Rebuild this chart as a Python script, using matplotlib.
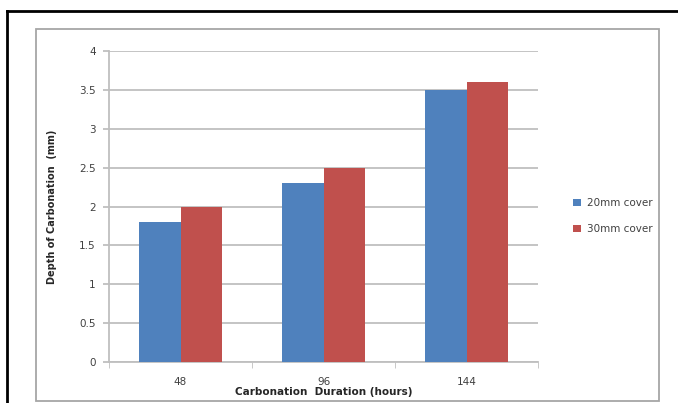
import matplotlib.pyplot as plt
import numpy as np
from matplotlib.lines import Line2D
from matplotlib.patches import Rectangle

durations = ['48', '96', '144']
cover_20mm = [1.8, 2.3, 3.5]
cover_30mm = [2.0, 2.5, 3.6]

blue = '#4F81BD'
red = '#C0504D'
grid_col = '#BFBFBF'
txt_col = '#404040'

W, H = 678, 403
fig = plt.figure(figsize=(6.78, 4.03), dpi=100)
# plot area in pixels: x 109..538, y 51..362
ax = fig.add_axes([109/W, 1 - 362/H, (538-109)/W, (362-51)/H])

x = np.arange(len(durations))
w = 0.29
ax.bar(x - w/2, cover_20mm, w, color=blue, label='20mm cover', zorder=3)
ax.bar(x + w/2, cover_30mm, w, color=red, label='30mm cover', zorder=3)

ax.set_xlim(-0.5, 2.5)
ax.set_ylim(0, 4)
ax.set_yticks(np.arange(0, 4.01, 0.5))
ax.set_yticklabels(['0', '0.5', '1', '1.5', '2', '2.5', '3', '3.5', '4'])
ax.yaxis.grid(True, color=grid_col, linewidth=1.3, zorder=0)
ax.set_xticks(x)
ax.set_xticklabels(durations)
ax.set_xticks([-0.5, 0.5, 1.5, 2.5], minor=True)
ax.tick_params(axis='x', which='major', length=0, labelsize=7.5, colors=txt_col, pad=11)
ax.tick_params(axis='x', which='minor', length=4, color=grid_col, direction='out')
ax.tick_params(axis='y', length=4.5, width=1.3, color=grid_col, labelsize=7.5, colors=txt_col, pad=5)
for s in ['top', 'right']:
    ax.spines[s].set_visible(False)
ax.spines['left'].set_color(grid_col)
ax.spines['bottom'].set_color(grid_col)
ax.spines['left'].set_linewidth(1.3)
ax.spines['bottom'].set_linewidth(1.3)

ax.set_xlabel('Carbonation  Duration (hours)', fontsize=7.5, fontweight='bold', color='#262626', labelpad=0)
ax.set_ylabel('Depth of Carbonation  (mm)', fontsize=7, fontweight='bold', color='#262626', labelpad=16)

ax.legend(loc='center left', bbox_to_anchor=((564 - 109) / (538 - 109), (362 - 216) / (362 - 51)),
          frameon=False, fontsize=7.5, handlelength=0.7, handleheight=0.7, labelspacing=1.5,
          handletextpad=0.6, labelcolor=txt_col)

# outer frames
fig.add_artist(Rectangle((36/W, 1 - 401/H), (659-36)/W, (401-29)/H, transform=fig.transFigure,
                         fill=False, edgecolor='#A6A6A6', linewidth=1.3))
fig.add_artist(Line2D([7/W, 1.0], [1 - 11/H, 1 - 11/H], transform=fig.transFigure, color='black', linewidth=2))
fig.add_artist(Line2D([7/W, 7/W], [0, 1 - 11/H], transform=fig.transFigure, color='black', linewidth=2))

fig.savefig('out.png', dpi=100)
